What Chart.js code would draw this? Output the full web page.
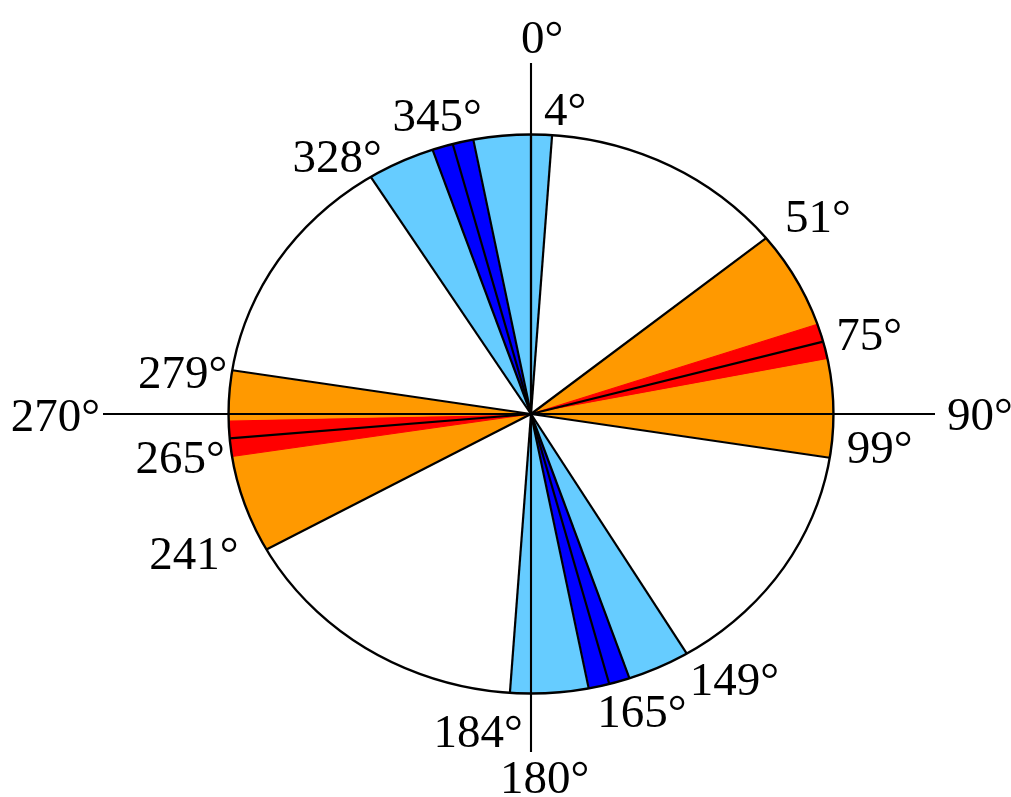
<!DOCTYPE html>
<html>
<head>
<meta charset="utf-8">
<script src="https://cdn.jsdelivr.net/npm/chart.js@4.4.0/dist/chart.umd.min.js"></script>
<style>
    html, body { margin: 0; padding: 0; background: #fff; }
    #marco { width: 1011px; height: 797px; }
</style>
</head>
<body>
<div id="marco"><canvas id="rosa"></canvas></div>
<script>
// limites de cada sector, en grados desde el norte y en sentido horario
const limites = [0, 4, 51, 71.25, 75, 78.75, 99, 149, 161, 165, 169, 184, 241, 261.25, 265, 268.75, 279, 328, 341, 345, 349, 360]
const zonas = ['celeste', 'blanco', 'naranja', 'rojo', 'rojo', 'naranja', 'blanco', 'celeste', 'azul', 'azul', 'celeste',
    'blanco', 'naranja', 'rojo', 'rojo', 'naranja', 'blanco', 'celeste', 'azul', 'azul', 'celeste']
const ejes = [0, 90, 180, 270]
const rotulos = [4, 51, 75, 99, 149, 165, 184, 241, 265, 279, 328, 345]

const colores = { celeste: '#66ccff', azul: '#0000ff', naranja: '#ff9900', rojo: '#ff0000', blanco: '#ffffff' }

const amplitudes = limites.slice(1).map((fin, i) => fin - limites[i])

// entre naranja y rojo no va linea negra
const conBorde = zonas.map((zona, i) => {
    const previa = zonas[(i + zonas.length - 1) % zonas.length]
    return [previa, zona].sort().join('-') !== 'naranja-rojo'
})

const ESTIRADO = 303 / 280   // la rueda es algo mas ancha que alta
const fuente = '47px "Liberation Serif", "Times New Roman", serif'

// rotulo de cada borde respecto a su extremo: [alineacion, dx, dy]
const posRotulos = {
    4: ['left', -8, -10],
    51: ['left', 19, -6],
    75: ['left', 13, 8],
    99: ['left', 17, 5],
    149: ['left', 3, 41],
    165: ['left', -12, 43],
    184: ['right', 13, 54],
    241: ['right', -28, 19],
    265: ['right', -5, 35],
    279: ['right', -5, 18],
    328: ['right', 11, -5],
    345: ['right', 29, -13]
}
// rotulos de los ejes respecto al centro
const posEjes = {
    0: ['left', -10, -361],
    90: ['left', 416, 16],
    180: ['left', -31, 379],
    270: ['right', -431, 17]
}

const rueda = {
    id: 'rueda',
    beforeDatasetsDraw(chart) {
        const { ctx } = chart
        const arco = chart.getDatasetMeta(0).data[0]
        ctx.save()
        ctx.translate(arco.x, arco.y)
        ctx.scale(ESTIRADO, 1)
        ctx.translate(-arco.x, -arco.y)
    },
    afterDatasetsDraw(chart) {
        const { ctx } = chart
        ctx.restore()

        const arcos = chart.getDatasetMeta(0).data
        const { x: cx, y: cy, outerRadius: r } = arcos[0]
        const punta = (ang) => [cx + Math.cos(ang) * r * ESTIRADO, cy + Math.sin(ang) * r]

        ctx.save()
        ctx.strokeStyle = '#000'
        ctx.lineWidth = 2.2
        arcos.forEach((arco, i) => {
            if (!conBorde[i]) return
            const [px, py] = punta(arco.startAngle)
            ctx.beginPath()
            ctx.moveTo(cx, cy)
            ctx.lineTo(px, py)
            ctx.stroke()
        })
        ctx.lineWidth = 2.4
        ctx.beginPath()
        ctx.ellipse(cx, cy, r * ESTIRADO, r, 0, 0, Math.PI * 2)
        ctx.stroke()

        // ejes
        ctx.lineWidth = 2.1
        ctx.beginPath()
        ctx.moveTo(cx, cy - 351)
        ctx.lineTo(cx, cy + 338)
        ctx.moveTo(cx - 428, cy)
        ctx.lineTo(cx + 404, cy)
        ctx.stroke()

        ctx.fillStyle = '#000'
        ctx.font = fuente
        ctx.textBaseline = 'alphabetic'
        ejes.forEach(g => {
            const [al, dx, dy] = posEjes[g]
            ctx.textAlign = al
            ctx.fillText(g + '°', cx + dx, cy + dy)
        })
        rotulos.forEach(g => {
            const [px, py] = punta(arcos[limites.indexOf(g)].startAngle)
            const [al, dx, dy] = posRotulos[g]
            ctx.textAlign = al
            ctx.fillText(g + '°', px + dx, py + dy)
        })
        ctx.restore()
    }
}

new Chart(document.getElementById('rosa'), {
    type: 'pie',
    data: {
        labels: zonas,
        datasets: [{
            data: amplitudes,
            backgroundColor: zonas.map(z => colores[z]),
            borderColor: zonas.map(z => colores[z]),
            borderWidth: 1,
            clip: false
        }]
    },
    options: {
        responsive: true,
        maintainAspectRatio: false,
        animation: false,
        events: [],
        layout: { padding: { left: 251, right: 200, top: 134, bottom: 103 } },
        plugins: {
            legend: { display: false },
            tooltip: { enabled: false }
        }
    },
    plugins: [rueda]
})
</script>
</body>
</html>
